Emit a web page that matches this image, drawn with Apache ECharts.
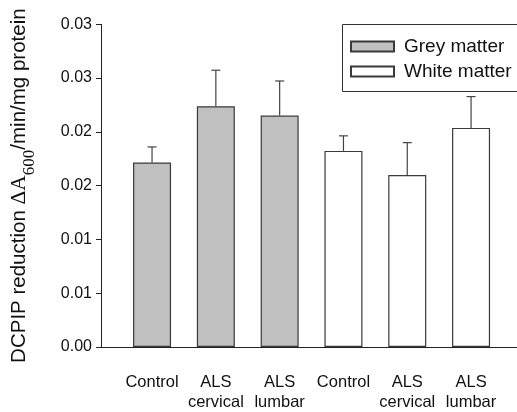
<!DOCTYPE html>
<html>
<head>
<meta charset="utf-8">
<script src="https://cdn.jsdelivr.net/npm/echarts@6/dist/echarts.min.js"></script>
<style>
  html, body { margin: 0; padding: 0; background: #fff; }
  #chart { width: 517px; height: 412px; }
</style>
</head>
<body>
<div id="chart"></div>
<script>
// Group labels along the x axis (positions 1..6)
const categories = ['Control', 'ALS\ncervical', 'ALS\nlumbar', 'Control', 'ALS\ncervical', 'ALS\nlumbar'];
const greyPositions = [1, 2, 3];
const whitePositions = [4, 5, 6];

// Mean DCPIP reduction rates and their upper error (SEM)
const greyMeans = [0.01715, 0.02238, 0.02151];
const greyErrors = [0.00145, 0.00335, 0.00322];
const whiteMeans = [0.01823, 0.01598, 0.02037];
const whiteErrors = [0.00140, 0.00302, 0.00291];

// Tick labels printed at 0.005 steps, rounded to two decimals
const yTickLabels = ['0.00', '0.01', '0.01', '0.02', '0.02', '0.03', '0.03'];

const chart = echarts.init(document.getElementById('chart'), null, { renderer: 'canvas' });

const sans = 'Liberation Sans, Arial, sans-serif';
const serif = 'Liberation Serif, Times New Roman, serif';

function pairs(xs, ys) { return xs.map((x, i) => [x, ys[i]]); }
function errRows(xs, ys, es) { return xs.map((x, i) => [x, ys[i], ys[i] + es[i]]); }

function errorBar(params, api) {
  const x = api.value(0);
  const base = api.coord([x, api.value(1)]);
  const top = api.coord([x, api.value(2)]);
  const half = 4.5;
  const style = { stroke: '#444', lineWidth: 1.2 };
  return {
    type: 'group',
    children: [
      { type: 'line', shape: { x1: base[0], y1: base[1], x2: top[0], y2: top[1] }, style },
      { type: 'line', shape: { x1: top[0] - half, y1: top[1], x2: top[0] + half, y2: top[1] }, style }
    ]
  };
}

chart.setOption({
  animation: false,
  backgroundColor: '#fff',
  grid: { left: 97, right: 0, top: 24.3, bottom: 64.7, containLabel: false },
  // Legend frame runs off the right edge of the canvas
  graphic: [{
    type: 'rect',
    z: 0,
    shape: { x: 342.5, y: 24.5, width: 220, height: 67 },
    style: { fill: '#fff', stroke: '#333', lineWidth: 1 }
  }],
  legend: {
    orient: 'vertical',
    left: 342,
    top: 24,
    padding: [13, 20, 12, 8],
    itemGap: 6,
    itemWidth: 43,
    itemHeight: 10,
    icon: 'rect',
    textStyle: { fontFamily: sans, fontSize: 19, color: '#111', padding: [0, 0, 0, 5] },
    data: ['Grey matter', 'White matter']
  },
  xAxis: {
    type: 'value',
    min: 0.2,
    max: 6.72,
    splitLine: { show: false },
    axisLine: { show: true, lineStyle: { color: '#222', width: 1 } },
    axisTick: { show: false },
    axisLabel: {
      customValues: [1, 2, 3, 4, 5, 6],
      formatter: v => categories[Math.round(v) - 1] || '',
      fontFamily: sans,
      fontSize: 16.5,
      color: '#111',
      lineHeight: 20,
      margin: 25
    }
  },
  yAxis: {
    type: 'value',
    min: 0,
    max: 0.03,
    interval: 0.005,
    splitLine: { show: false },
    axisLine: { show: true, lineStyle: { color: '#222', width: 1 } },
    axisTick: { show: true, inside: false, length: 5, lineStyle: { color: '#222' } },
    axisLabel: {
      formatter: v => yTickLabels[Math.round(v / 0.005)],
      fontFamily: sans,
      fontSize: 16,
      color: '#111',
      margin: 9
    },
    name: '{a|DCPIP reduction }{g|ΔA}{sub|600}{a|/min/mg protein}',
    nameLocation: 'middle',
    nameRotate: 90,
    nameGap: 70,
    nameTextStyle: {
      rich: {
        a: { fontFamily: sans, fontSize: 20.5, color: '#111', lineHeight: 24, verticalAlign: 'middle' },
        g: { fontFamily: serif, fontSize: 21.5, color: '#111', lineHeight: 24, verticalAlign: 'middle' },
        sub: { fontFamily: serif, fontSize: 17, color: '#111', lineHeight: 15, verticalAlign: 'bottom', padding: [0, 0, -7, 0] }
      }
    }
  },
  series: [
    {
      name: 'Grey matter',
      type: 'bar',
      barWidth: 38,
      barGap: '-100%',
      itemStyle: { color: '#c0c0c0', borderColor: '#3a3a3a', borderWidth: 1.2 },
      data: pairs(greyPositions, greyMeans),
      z: 3
    },
    {
      name: 'White matter',
      type: 'bar',
      barWidth: 38,
      barGap: '-100%',
      itemStyle: { color: '#ffffff', borderColor: '#3a3a3a', borderWidth: 1.2 },
      data: pairs(whitePositions, whiteMeans),
      z: 3
    },
    {
      type: 'custom',
      renderItem: errorBar,
      data: errRows(greyPositions, greyMeans, greyErrors).concat(errRows(whitePositions, whiteMeans, whiteErrors)),
      z: 2,
      silent: true
    }
  ]
});
</script>
</body>
</html>
